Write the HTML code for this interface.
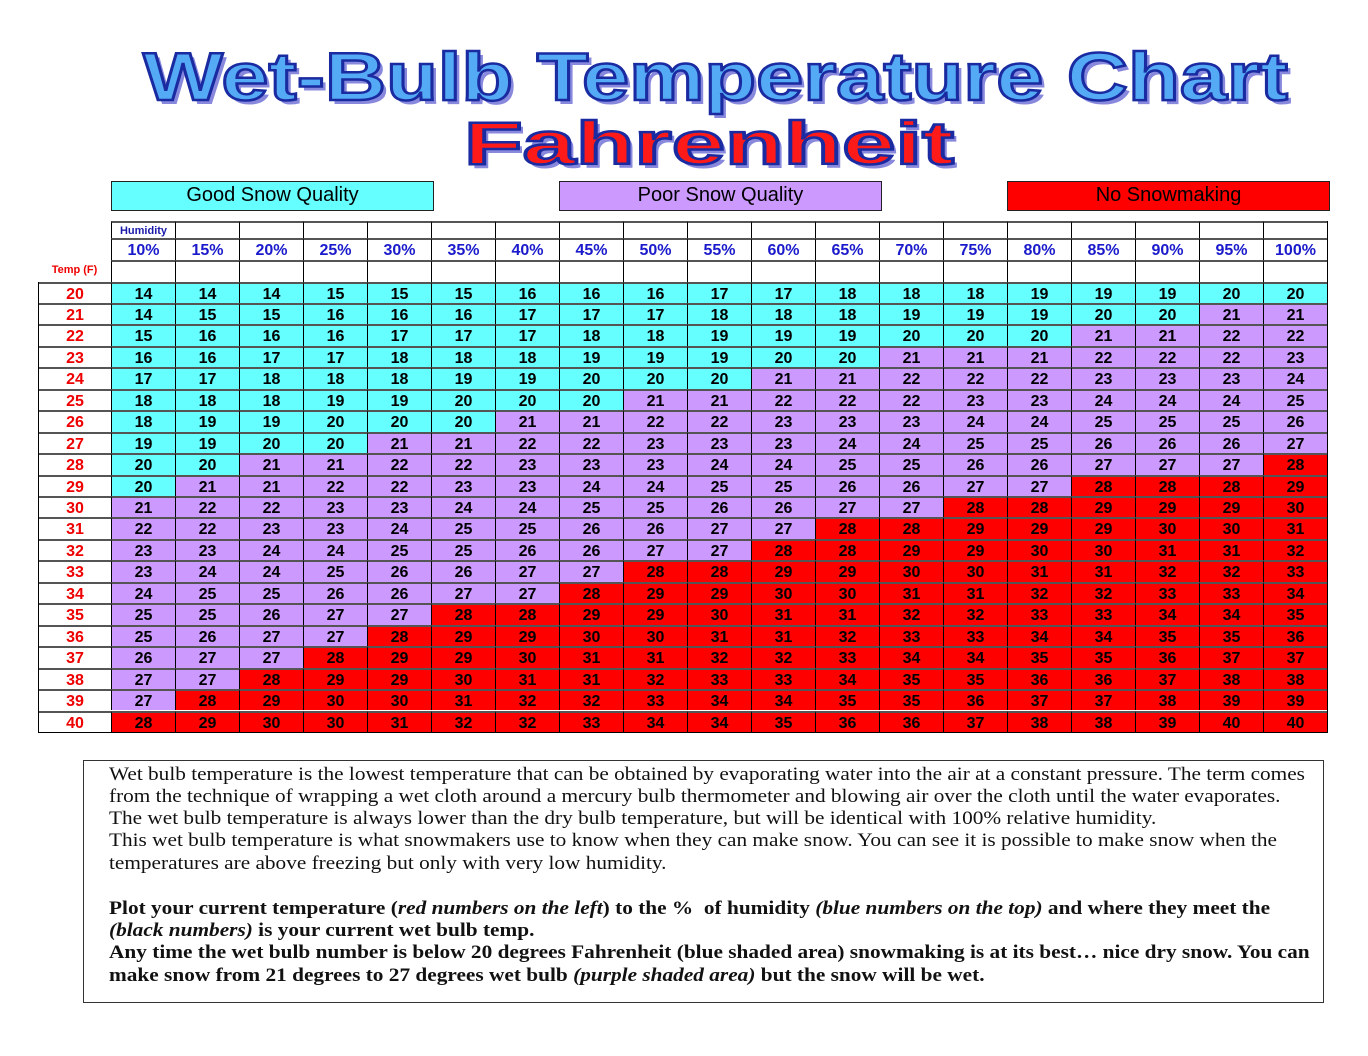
<!DOCTYPE html>
<html><head><meta charset="utf-8"><style>
body{margin:0;width:1368px;height:1056px;background:#fff;position:relative;overflow:hidden;font-family:"Liberation Sans",sans-serif}
.a{position:absolute;box-sizing:border-box}
.c{position:absolute;box-sizing:border-box;text-align:center;font-weight:bold;border-left:1px solid #000;border-top:2px solid #555}
.leg{position:absolute;height:28px;top:181px;border:1px solid #222;font-size:20px;text-align:center;line-height:27px}
.tl{position:absolute;left:109px;white-space:nowrap;font-family:"Liberation Serif",serif;font-size:18.5px;color:#111;transform-origin:0 0;transform:scaleX(1.15)}
.tb{font-weight:bold;transform:scaleX(1.152)}
</style></head><body>
<svg class="a" style="left:0;top:0" width="1368" height="180">
<text x="143" y="100" textLength="1145" lengthAdjust="spacingAndGlyphs" font-family="Liberation Sans" font-weight="bold" font-size="68" fill="#8888dd" transform="translate(4,4)">Wet-Bulb Temperature Chart</text>
<text x="143" y="100" textLength="1145" lengthAdjust="spacingAndGlyphs" font-family="Liberation Sans" font-weight="bold" font-size="68" fill="#55aaf5" stroke="#1a2aa0" stroke-width="2.5">Wet-Bulb Temperature Chart</text>
<text x="464" y="164" textLength="490" lengthAdjust="spacingAndGlyphs" font-family="Liberation Sans" font-weight="bold" font-size="60" fill="#8888dd" transform="translate(4,4)">Fahrenheit</text>
<text x="464" y="164" textLength="490" lengthAdjust="spacingAndGlyphs" font-family="Liberation Sans" font-weight="bold" font-size="60" fill="#ff1a1a" stroke="#1a2aa0" stroke-width="2.5">Fahrenheit</text>
</svg>
<div class="leg" style="left:111px;width:321px;background:#66ffff">Good Snow Quality</div>
<div class="leg" style="left:559px;width:321px;background:#cc99ff">Poor Snow Quality</div>
<div class="leg" style="left:1007px;width:321px;background:#ff0000">No Snowmaking</div>
<div id="tbl"></div>
<div class="a" style="left:83px;top:760px;width:1241px;height:243px;border:1.5px solid #333"></div>
<div class="tl" style="top:765px">Wet bulb temperature is the lowest temperature that can be obtained by evaporating water into the air at a constant pressure. The term comes</div>
<div class="tl" style="top:787px">from the technique of wrapping a wet cloth around a mercury bulb thermometer and blowing air over the cloth until the water evaporates.</div>
<div class="tl" style="top:809px">The wet bulb temperature is always lower than the dry bulb temperature, but will be identical with 100% relative humidity.</div>
<div class="tl" style="top:831px">This wet bulb temperature is what snowmakers use to know when they can make snow. You can see it is possible to make snow when the</div>
<div class="tl" style="top:854px">temperatures are above freezing but only with very low humidity.</div>
<div class="tl tb" style="top:899px">Plot your current temperature (<i>red numbers on the left</i>) to the %&nbsp; of humidity <i>(blue numbers on the top)</i> and where they meet the</div>
<div class="tl tb" style="top:921px"><i>(black numbers)</i> is your current wet bulb temp.</div>
<div class="tl tb" style="top:943px">Any time the wet bulb number is below 20 degrees Fahrenheit (blue shaded area) snowmaking is at its best… nice dry snow. You can</div>
<div class="tl tb" style="top:966px">make snow from 21 degrees to 27 degrees wet bulb <i>(purple shaded area)</i> but the snow will be wet.</div>
<script>
const humidity=[10,15,20,25,30,35,40,45,50,55,60,65,70,75,80,85,90,95,100];
const temps=[20,21,22,23,24,25,26,27,28,29,30,31,32,33,34,35,36,37,38,39,40];
const wb=[
[14,14,14,15,15,15,16,16,16,17,17,18,18,18,19,19,19,20,20],
[14,15,15,16,16,16,17,17,17,18,18,18,19,19,19,20,20,21,21],
[15,16,16,16,17,17,17,18,18,19,19,19,20,20,20,21,21,22,22],
[16,16,17,17,18,18,18,19,19,19,20,20,21,21,21,22,22,22,23],
[17,17,18,18,18,19,19,20,20,20,21,21,22,22,22,23,23,23,24],
[18,18,18,19,19,20,20,20,21,21,22,22,22,23,23,24,24,24,25],
[18,19,19,20,20,20,21,21,22,22,23,23,23,24,24,25,25,25,26],
[19,19,20,20,21,21,22,22,23,23,23,24,24,25,25,26,26,26,27],
[20,20,21,21,22,22,23,23,23,24,24,25,25,26,26,27,27,27,28],
[20,21,21,22,22,23,23,24,24,25,25,26,26,27,27,28,28,28,29],
[21,22,22,23,23,24,24,25,25,26,26,27,27,28,28,29,29,29,30],
[22,22,23,23,24,25,25,26,26,27,27,28,28,29,29,29,30,30,31],
[23,23,24,24,25,25,26,26,27,27,28,28,29,29,30,30,31,31,32],
[23,24,24,25,26,26,27,27,28,28,29,29,30,30,31,31,32,32,33],
[24,25,25,26,26,27,27,28,29,29,30,30,31,31,32,32,33,33,34],
[25,25,26,27,27,28,28,29,29,30,31,31,32,32,33,33,34,34,35],
[25,26,27,27,28,29,29,30,30,31,31,32,33,33,34,34,35,35,36],
[26,27,27,28,29,29,30,31,31,32,32,33,34,34,35,35,36,37,37],
[27,27,28,29,29,30,31,31,32,33,33,34,35,35,36,36,37,38,38],
[27,28,29,30,30,31,32,32,33,34,34,35,35,36,37,37,38,39,39],
[28,29,30,30,31,32,32,33,34,34,35,36,36,37,38,38,39,40,40]];
const X0=111,CW=64,Y0=281.5,RH=21.45;
const T=document.getElementById('tbl');
function col(v){return v<=20?'#66ffff':v<=27?'#cc99ff':'#ff0000';}
function mk(x,y,w,h,txt,st){const d=document.createElement('div');d.className='c';
d.style.cssText+=`left:${x}px;top:${y}px;width:${w}px;height:${h}px;line-height:${h}px;`+st;d.textContent=txt;T.appendChild(d);return d;}
humidity.forEach((h,i)=>{const x=X0+i*CW;
const a=mk(x,221,CW,17,i==0?'Humidity':'','color:#1a1aaa;font-size:11px;');


const b=mk(x,238,CW,22,h+'%','color:#1a1acc;font-size:16px;');


const c=mk(x,260,CW,21.5,'','');

});
const tl=document.createElement('div');tl.className='a';tl.textContent='Temp (F)';
tl.style.cssText='left:38px;top:264px;width:73px;text-align:center;color:#e00;font-weight:bold;font-size:11px';


T.appendChild(tl);
temps.forEach((t,r)=>{const y=Y0+r*RH;
const d=mk(38,y,73,RH,t,'color:#e00;font-size:16px;');


wb[r].forEach((v,i)=>{const e=mk(X0+i*CW,y,CW,RH,v,'font-size:16px;color:#000;background:'+col(v)+';');

});});
const ob=document.createElement('div');ob.className='a';
ob.style.cssText=`left:38px;top:${Y0}px;width:1290px;height:${RH*21+1}px;border:1px solid #000;border-top:none;pointer-events:none`;


T.appendChild(ob);
const hb=document.createElement('div');hb.className='a';
hb.style.cssText='left:111px;top:221px;width:1217px;height:61px;border-right:1px solid #000;pointer-events:none';


T.appendChild(hb);
</script>
</body></html>
